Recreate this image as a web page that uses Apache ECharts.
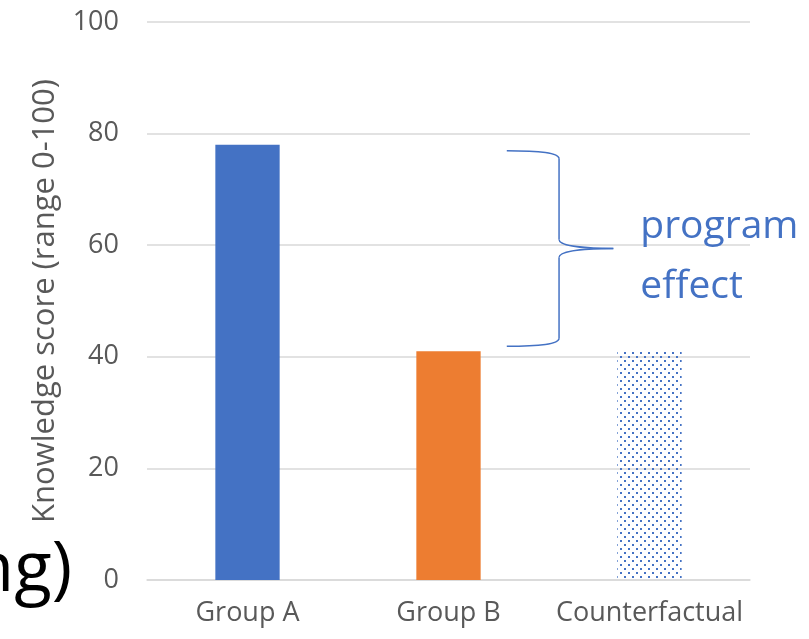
<!DOCTYPE html>
<html>
<head>
<meta charset="utf-8">
<script src="https://cdn.jsdelivr.net/npm/echarts@6/dist/echarts.min.js"></script>
<style>
html,body{margin:0;padding:0;background:#fff;}
#main{width:809px;height:639px;}
</style>
</head>
<body>
<div id="main"></div>
<script>
var groups = ['Group A', 'Group B', 'Counterfactual'];
var scores = [78, 41, 41];
var yTicks = [0, 20, 40, 60, 80, 100];
var barColors = ['#4472C4', '#ED7D31', 'pattern'];
var effectText = ['program', 'effect'];

// dotted fill for counterfactual bar
var dots = document.createElement('canvas');
dots.width = 8; dots.height = 8;
var ctx = dots.getContext('2d');
ctx.fillStyle = '#4472C4';
ctx.fillRect(0, 0, 2, 2);
ctx.fillRect(4, 4, 2, 2);

var labelFont = '"Open Sans", sans-serif';

var myChart = echarts.init(document.getElementById('main'));
myChart.setOption({
    animation: false,
    grid: {left: 147, right: 59, top: 22, bottom: 59},
    xAxis: {
        type: 'category',
        data: groups,
        axisTick: {show: false},
        axisLine: {lineStyle: {color: '#D9D9D9', width: 1.5}},
        axisLabel: {color: '#595959', fontSize: 27, fontFamily: labelFont, margin: 20, interval: 0}
    },
    yAxis: {
        type: 'value',
        min: yTicks[0],
        max: yTicks[yTicks.length - 1],
        interval: 20,
        name: 'Knowledge score (range 0-100)',
        nameLocation: 'middle',
        nameGap: 86,
        nameTextStyle: {color: '#595959', fontSize: 31, fontFamily: labelFont},
        axisLabel: {color: '#595959', fontSize: 27, fontFamily: labelFont, margin: 28},
        splitLine: {lineStyle: {color: '#D9D9D9', width: 1.5}}
    },
    series: [{
        type: 'bar',
        barWidth: '32%',
        data: scores.map(function(v, i){
            var c = barColors[i] == 'pattern' ? {image: dots, repeat: 'repeat'} : barColors[i];
            return {value: v, itemStyle: {color: c}};
        })
    }]
});

// brace + label between Group A level and Group B level, drawn beside Group B
var top_ = myChart.convertToPixel({yAxisIndex: 0}, scores[0]) + 6;
var bot = myChart.convertToPixel({yAxisIndex: 0}, scores[1]) - 5;
var mid = (top_ + bot) / 2;
var cx = myChart.convertToPixel({xAxisIndex: 0}, groups[1]);
var cw = myChart.convertToPixel({xAxisIndex: 0}, groups[2]) - cx;
var x0 = cx + cw * 0.29, x1 = cx + cw * 0.55, x2 = cx + cw * 0.82;
var braceStyle = {stroke: '#4472C4', lineWidth: 1.5, fill: null};

function curve(a, b, c1, c2) {
    return {type: 'bezierCurve', shape: {x1: a[0], y1: a[1], x2: b[0], y2: b[1],
        cpx1: c1[0], cpy1: c1[1], cpx2: c2[0], cpy2: c2[1]}, style: braceStyle};
}
function seg(a, b) {
    return {type: 'line', shape: {x1: a[0], y1: a[1], x2: b[0], y2: b[1]}, style: braceStyle};
}

myChart.setOption({
    graphic: [
        curve([x0, top_], [x1, top_ + 8], [x0 + 33, top_], [x1, top_ + 2]),
        seg([x1, top_ + 8], [x1, mid - 9]),
        curve([x1, mid - 9], [x2, mid], [x1, mid - 2], [x1 + 30, mid]),
        curve([x2, mid], [x1, mid + 9], [x1 + 30, mid], [x1, mid + 2]),
        seg([x1, mid + 9], [x1, bot - 8]),
        curve([x1, bot - 8], [x0, bot], [x1, bot - 2], [x0 + 33, bot]),
        {type: 'text', left: x2 + 27, top: mid - 41, style: {text: effectText[0], fill: '#4472C4', font: '39px "Open Sans", sans-serif'}},
        {type: 'text', left: x2 + 27, top: mid + 19, style: {text: effectText[1], fill: '#4472C4', font: '39px "Open Sans", sans-serif'}},
        {type: 'text', right: 809 - 72, top: 537, style: {text: 'ng)', fill: '#000', font: '69px "Open Sans", sans-serif'}}
    ]
});
</script>
</body>
</html>
